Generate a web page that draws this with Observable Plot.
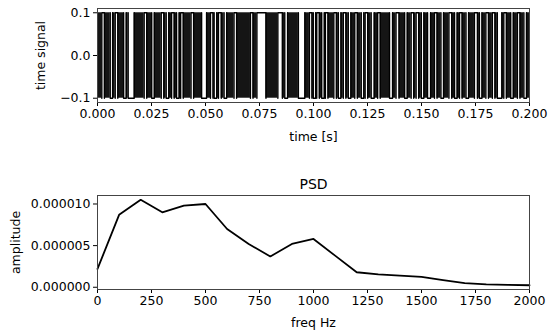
<!DOCTYPE html>
<html>
<head>
<meta charset="utf-8">
<script src="https://cdn.jsdelivr.net/npm/d3@7"></script>
<script src="https://cdn.jsdelivr.net/npm/@observablehq/plot@0.6"></script>
<style>
  html, body { margin: 0; padding: 0; background: white; }
  #chart { width: 550px; height: 333px; overflow: hidden; }
  #chart svg { display: block; }
</style>
</head>
<body>
<div id="chart"></div>
<script>
// ---- Top panel: binary time signal (held runs; the rest toggles densely) ----
const holdStart = [0.0020,0.0059,0.0082,0.0121,0.0142,0.0216,0.0251,0.0295,0.0318,0.0343,0.0366,0.0385,
  0.0433,0.0482,0.0523,0.0540,0.0560,0.0586,0.0632,0.0708,0.0738,
  0.0835,0.0867,0.0930,0.0981,0.0999,0.1015,0.1038,0.1055,0.1094,0.1115,0.1138,0.1161,0.1191,
  0.1221,0.1239,0.1267,0.1297,0.1352,0.1382,0.1422,0.1452,0.1475,0.1499,0.1528,0.1560,0.1590,
  0.1627,0.1653,0.1676,0.1706,0.1745,0.1768,0.1798,0.1828,0.1851,0.1881,0.1913,0.1944,0.1974];
const holdEnd = [0.0032,0.0070,0.0094,0.0133,0.0170,0.0228,0.0263,0.0307,0.0330,0.0355,0.0378,0.0397,
  0.0445,0.0505,0.0535,0.0552,0.0573,0.0598,0.0644,0.0720,0.0780,
  0.0856,0.0880,0.0960,0.0993,0.1010,0.1027,0.1050,0.1067,0.1106,0.1127,0.1150,0.1173,0.1203,
  0.1233,0.1251,0.1281,0.1309,0.1366,0.1396,0.1434,0.1464,0.1487,0.1511,0.1542,0.1572,0.1602,
  0.1640,0.1665,0.1688,0.1718,0.1759,0.1780,0.1810,0.1840,0.1872,0.1893,0.1925,0.1956,0.1986];
const holdLevel = [0.1,-0.1,0.1,-0.1,-0.1,0.1,-0.1,0.1,-0.1,0.1,-0.1,0.1,
  0.1,-0.1,0.1,-0.1,0.1,-0.1,0.1,0.1,0.1,
  0.1,-0.1,-0.1,0.1,-0.1,0.1,-0.1,0.1,0.1,-0.1,0.1,-0.1,0.1,
  -0.1,0.1,-0.1,0.1,-0.1,0.1,-0.1,0.1,0.1,-0.1,-0.1,0.1,-0.1,
  0.1,-0.1,0.1,-0.1,0.1,-0.1,0.1,0.1,-0.1,0.1,-0.1,0.1,-0.1];
const timeTicks = [0, 0.025, 0.05, 0.075, 0.1, 0.125, 0.15, 0.175, 0.2];
const signalTicks = [-0.1, 0.0, 0.1];

// ---- Bottom panel: PSD ----
const psdFreq = [0,100,200,300,400,500,600,700,800,900,1000,1100,1200,1300,1400,1500,1600,1700,1800,1900,2000];
const psdAmp = [2.2e-6,8.7e-6,10.5e-6,9.0e-6,9.8e-6,10.0e-6,7.0e-6,5.2e-6,3.7e-6,5.2e-6,5.8e-6,3.8e-6,
  1.8e-6,1.55e-6,1.4e-6,1.25e-6,0.85e-6,0.5e-6,0.35e-6,0.28e-6,0.24e-6];
const freqTicks = [0,250,500,750,1000,1250,1500,1750,2000];
const ampTicks = [0, 5e-6, 1e-5];

// derived structures
const holds = holdStart.map((s, i) => ({s, e: holdEnd[i], lvl: holdLevel[i]}));
const busy = [];
let prev = 0;
for (const h of holds) { if (h.s > prev) busy.push({s: prev, e: h.s}); prev = h.e; }
if (prev < 0.2) busy.push({s: prev, e: 0.2});
const holdPath = holds.flatMap((h, i) => [
  {t: h.s, v: -h.lvl, k: i}, {t: h.s, v: h.lvl, k: i}, {t: h.e, v: h.lvl, k: i}, {t: h.e, v: -h.lvl, k: i}
]);
const psd = psdFreq.map((f, i) => ({f, a: psdAmp[i]}));

const font = "'DejaVu Sans', sans-serif";
const baseStyle = {fontFamily: font, fontSize: "12.5px", color: "black", background: "white"};

const topPlot = Plot.plot({
  width: 550, height: 150,
  marginLeft: 97, marginRight: 21, marginTop: 8, marginBottom: 48,
  style: baseStyle,
  x: {domain: [0, 0.2], ticks: timeTicks, tickFormat: d3.format(".3f"), label: null, tickSize: 4, tickPadding: 3},
  y: {domain: [-0.11, 0.11], ticks: signalTicks, tickFormat: d3.format(".1f"), label: null, tickSize: 4, tickPadding: 3},
  marks: [
    Plot.rect(busy, {x1: "s", x2: "e", y1: -0.1, y2: 0.1, fill: "#151515"}),
    Plot.line(holdPath, {x: "t", y: "v", z: "k", stroke: "black", strokeWidth: 1.4}),
    Plot.frame({stroke: "#444", strokeWidth: 1}),
    Plot.text(["time [s]"], {frameAnchor: "bottom", dy: 34, lineAnchor: "middle", textAnchor: "middle", text: d => d, fontSize: 12.5}),
    Plot.text(["time signal"], {frameAnchor: "left", dx: -57, rotate: -90, textAnchor: "middle", lineAnchor: "middle", text: d => d, fontSize: 12.5})
  ]
});

const bottomPlot = Plot.plot({
  width: 550, height: 183,
  marginLeft: 97, marginRight: 21, marginTop: 45, marginBottom: 44,
  style: baseStyle,
  x: {domain: [0, 2000], ticks: freqTicks, tickFormat: d3.format("d"), label: null, tickSize: 4, tickPadding: 3},
  y: {domain: [-0.27e-6, 1.102e-5], ticks: ampTicks, tickFormat: d3.format(".6f"), label: null, tickSize: 4, tickPadding: 3},
  marks: [
    Plot.line(psd, {x: "f", y: "a", stroke: "black", strokeWidth: 1.8}),
    Plot.frame({stroke: "#444", strokeWidth: 1}),
    Plot.text(["PSD"], {frameAnchor: "top", dy: -11, lineAnchor: "middle", textAnchor: "middle", text: d => d, fontSize: 14}),
    Plot.text(["freq Hz"], {frameAnchor: "bottom", dy: 33.5, lineAnchor: "middle", textAnchor: "middle", text: d => d, fontSize: 12.5}),
    Plot.text(["amplitude"], {frameAnchor: "left", dx: -82, rotate: -90, textAnchor: "middle", lineAnchor: "middle", text: d => d, fontSize: 12.5})
  ]
});

const chart = document.getElementById("chart");
chart.appendChild(topPlot);
chart.appendChild(bottomPlot);
</script>
</body>
</html>
